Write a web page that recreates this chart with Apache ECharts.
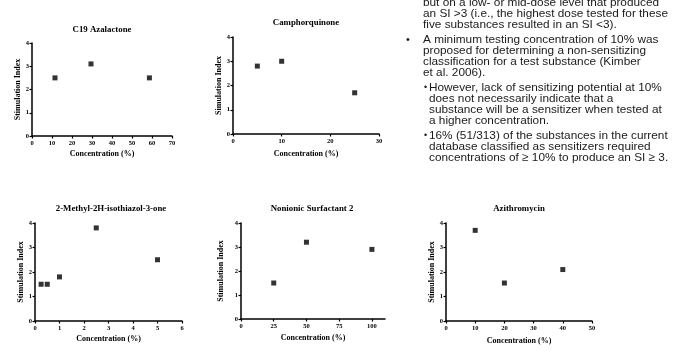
<!DOCTYPE html>
<html>
<head>
<meta charset="utf-8">
<script src="https://cdn.jsdelivr.net/npm/echarts@6/dist/echarts.min.js"></script>
<style>
  html, body { margin: 0; padding: 0; background: #fff; }
  #chart { width: 676px; height: 362px; }
</style>
</head>
<body>
<div id="chart"></div>
<script>
// data
var azalactoneConc = [11.5, 29.5, 58.7];
var azalactoneSI = [2.5, 3.1, 2.5];
var camphorConc = [5, 10, 25];
var camphorSI = [2.8, 3.0, 1.7];
var methylConc = [0.25, 0.5, 1, 2.5, 5];
var methylSI = [1.5, 1.5, 1.8, 3.8, 2.5];
var surfactantConc = [25, 50, 100];
var surfactantSI = [1.5, 3.2, 2.9];
var azithroConc = [10, 20, 40];
var azithroSI = [3.7, 1.55, 2.1];

var titles = ['C19 Azalactone', 'Camphorquinone', '2-Methyl-2H-isothiazol-3-one', 'Nonionic Surfactant 2', 'Azithromycin'];
var yNames = ['Stimulation Index', 'Simulation Index', 'Stimulation Index', 'Stimulation Index', 'Stimulation Index'];
var xMax = [70, 30, 6, 110, 50];
var xInterval = [10, 10, 1, 25, 10];
var surfactantTicks = [0, 25, 50, 75, 100];

var bulletText = [
  ['but on a low- or mid-dose level that produced', 'an SI >3 (i.e., the highest dose tested for these', 'five substances resulted in an SI <3).'],
  ['A minimum testing concentration of 10% was', 'proposed for determining a non-sensitizing', 'classification for a test substance (Kimber', 'et al. 2006).'],
  ['However, lack of sensitizing potential at 10%', 'does not necessarily indicate that a', 'substance will be a sensitizer when tested at', 'a higher concentration.'],
  ['16% (51/313) of the substances in the current', 'database classified as sensitizers required', 'concentrations of \u2265 10% to produce an SI \u2265 3.']
];

var chart = echarts.init(document.getElementById('chart'), null, {renderer: 'canvas'});
var serif = '"Liberation Serif", "Times New Roman", serif';

//grid layout, one per panel
var grids = [
  {left: 32, top: 43, width: 140, height: 93},
  {left: 233, top: 37, width: 146, height: 97},
  {left: 35, top: 223, width: 147, height: 98},
  {left: 241, top: 223, width: 144, height: 96},
  {left: 446, top: 223, width: 146, height: 98}
];
var titlePos = [[102, 30], [306, 23], [111, 209], [312, 209], [519, 209]];
var yGap = [9, 10.5, 10.5, 16.5, 9.5];
var xGap = [13.5, 15.5, 13.5, 15, 15.5];
var seriesData = [
  [azalactoneConc, azalactoneSI],
  [camphorConc, camphorSI],
  [methylConc, methylSI],
  [surfactantConc, surfactantSI],
  [azithroConc, azithroSI]
];

var axisLine = {lineStyle: {color: '#000', width: 1.5}};
var axisTick = {length: 2.5, lineStyle: {color: '#000', width: 1.2}};
var labelStyle = {color: '#000', fontFamily: serif, fontWeight: 'bold', fontSize: 6.5};
var nameStyle = {color: '#000', fontFamily: serif, fontWeight: 'bold', fontSize: 8};

var xAxis = [], yAxis = [], series = [], graphic = [];
for (var i = 0; i < grids.length; i++) {
  var xa = {
    type: 'value', gridIndex: i, min: 0, max: xMax[i], interval: xInterval[i],
    name: 'Concentration (%)', nameLocation: 'middle', nameGap: xGap[i], nameTextStyle: nameStyle,
    axisLine: axisLine, axisTick: {show: true, length: 2.5, lineStyle: {color: '#000', width: 1.2}},
    axisLabel: Object.assign({margin: 4}, labelStyle),
    splitLine: {show: false}
  };
  if (i == 3) {
    xa.axisTick.customValues = surfactantTicks;
    xa.axisLabel.customValues = surfactantTicks;
  }
  xAxis.push(xa);
  yAxis.push({
    type: 'value', gridIndex: i, min: 0, max: 4, interval: 1,
    name: yNames[i], nameLocation: 'middle', nameGap: yGap[i], nameTextStyle: nameStyle,
    axisLine: axisLine, axisTick: axisTick,
    axisLabel: Object.assign({margin: 3}, labelStyle),
    splitLine: {show: false}
  });
  var pts = [];
  for (var j = 0; j < seriesData[i][0].length; j++) {
    pts.push([seriesData[i][0][j], seriesData[i][1][j]]);
  }
  series.push({
    type: 'scatter', xAxisIndex: i, yAxisIndex: i, data: pts,
    symbol: 'rect', symbolSize: 5,
    itemStyle: {color: '#000'}
  });
  graphic.push({
    type: 'text', x: titlePos[i][0], y: titlePos[i][1],
    style: {text: titles[i], fill: '#000', align: 'center', verticalAlign: 'middle',
      font: 'bold 8.8px ' + serif}
  });
}

//bullet text on the right
var sans = '"Liberation Sans", Arial, sans-serif';
var paraTop = [-2.5, 34.2, 82.5, 130.5];
var paraX = [423, 423, 429, 429];
var bulletX = [null, 406, 424, 424];
for (var p = 0; p < bulletText.length; p++) {
  graphic.push({
    type: 'text', x: paraX[p], y: paraTop[p],
    style: {text: bulletText[p].join('\n'), fill: '#1a1a1a', font: '11.8px ' + sans,
      lineHeight: 11, verticalAlign: 'top'}
  });
  if (bulletX[p] != null) {
    graphic.push({
      type: 'text', x: bulletX[p], y: paraTop[p],
      style: {text: '\u2022', fill: '#1a1a1a', font: (p == 1 ? '11px ' : '9px ') + sans,
        lineHeight: 11, verticalAlign: 'top'}
    });
  }
}

chart.setOption({
  animation: false,
  grid: grids,
  xAxis: xAxis,
  yAxis: yAxis,
  series: series,
  graphic: graphic
});
</script>
</body>
</html>
